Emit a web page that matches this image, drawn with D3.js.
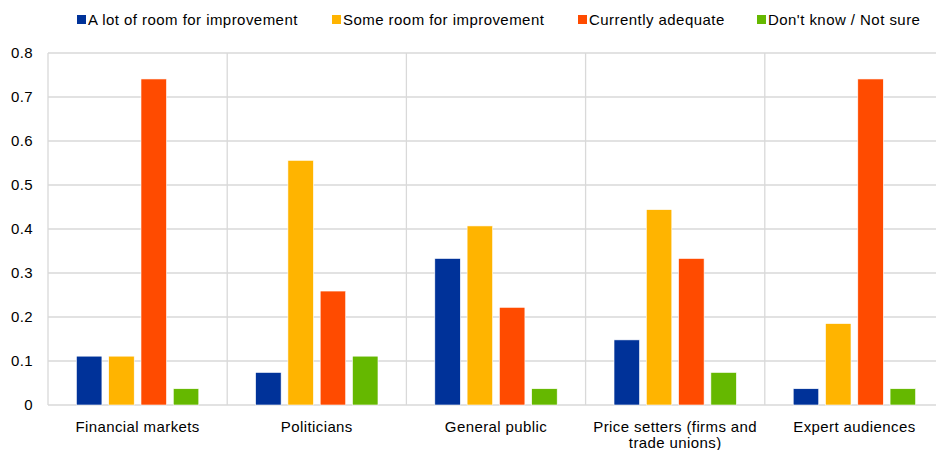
<!DOCTYPE html>
<html>
<head>
    <script src="https://d3js.org/d3.v7.min.js"></script>
    <style>
        body { margin: 0; background: #fff; }
        svg { display: block; font-family: "Liberation Sans", Arial, sans-serif; }
        .grid line { stroke: #d9d9d9; stroke-width: 1.3; }
        .axis path, .axis line { stroke: none; }
        .axis text { fill: #000; font-size: 15px; letter-spacing: 0.4px; }
        .legend text { font-size: 15px; fill: #000; letter-spacing: 0.45px; }
    </style>
</head>
<body>
    <svg id="chart"></svg>
    <script>
        const categories = ['Financial markets', 'Politicians', 'General public', 'Price setters (firms and trade unions)', 'Expert audiences'];
        const seriesNames = ['A lot of room for improvement', 'Some room for improvement', 'Currently adequate', "Don't know / Not sure"];
        const seriesColors = ['#003299', '#FFB400', '#FF4B00', '#65B800'];
        const lotOfRoom = [0.111, 0.074, 0.333, 0.148, 0.037];
        const someRoom = [0.111, 0.556, 0.407, 0.444, 0.185];
        const adequate = [0.741, 0.259, 0.222, 0.333, 0.741];
        const dontKnow = [0.037, 0.111, 0.037, 0.074, 0.037];
        const yTicks = [0, 0.1, 0.2, 0.3, 0.4, 0.5, 0.6, 0.7, 0.8];

        const series = [lotOfRoom, someRoom, adequate, dontKnow];
        const data = categories.map((c, i) => ({ cat: c, values: series.map(s => s[i]) }));

        const W = 936, H = 450;
        const margin = { top: 53, right: -8, bottom: 45, left: 48 };
        const width = W - margin.left - margin.right;
        const height = H - margin.top - margin.bottom;

        const svg = d3.select('#chart').attr('width', W).attr('height', H);
        const g = svg.append('g').attr('transform', `translate(${margin.left},${margin.top})`);

        const x0 = d3.scaleBand().domain(categories).range([0, width]).padding(0);
        const x1 = d3.scaleBand().domain(d3.range(4)).range([0, x0.bandwidth()])
            .paddingInner(0.21).paddingOuter(0.88);
        const y = d3.scaleLinear().domain([0, 0.8]).range([height, 0]);

        // horizontal gridlines
        g.append('g').attr('class', 'grid')
            .selectAll('line').data(yTicks).enter().append('line')
            .attr('x1', 0).attr('x2', width)
            .attr('y1', d => y(d)).attr('y2', d => y(d));

        // vertical separators
        g.append('g').attr('class', 'grid')
            .selectAll('line').data(categories).enter().append('line')
            .attr('x1', d => x0(d)).attr('x2', d => x0(d))
            .attr('y1', 0).attr('y2', height);

        // bars
        const groups = g.selectAll('.cat').data(data).enter().append('g')
            .attr('transform', d => `translate(${x0(d.cat)},0)`);
        groups.selectAll('rect').data(d => d.values).enter().append('rect')
            .attr('x', (d, i) => x1(i))
            .attr('width', x1.bandwidth())
            .attr('y', d => y(d))
            .attr('height', d => height - y(d))
            .attr('fill', (d, i) => seriesColors[i])
            .attr('stroke', '#fff').attr('stroke-width', 0.6);

        // y axis
        g.append('g').attr('class', 'axis')
            .attr('transform', 'translate(-15,0)')
            .call(d3.axisLeft(y).tickValues(yTicks).tickSize(0).tickPadding(0)
                .tickFormat(d => d === 0 ? '0' : d3.format('.1f')(d)));

        // x axis labels, wrapped
        const xAxis = g.append('g').attr('class', 'axis')
            .attr('transform', `translate(0,${height})`)
            .call(d3.axisBottom(x0).tickSize(0).tickPadding(15).tickFormat(''));
        const labelLines = {
            'Price setters (firms and trade unions)': ['Price setters (firms and', 'trade unions)']
        };
        xAxis.selectAll('.tick').each(function(d) {
            const lines = labelLines[d] || [d];
            const t = d3.select(this).append('text')
                .attr('fill', '#000').attr('text-anchor', 'middle')
                .attr('y', 27);
            lines.forEach((l, i) => t.append('tspan').attr('x', 0).attr('dy', i === 0 ? 0 : 16).text(l));
        });

        // legend
        const legendX = [77, 332, 578, 757];
        const legend = svg.append('g').attr('class', 'legend');
        seriesNames.forEach((name, i) => {
            legend.append('rect').attr('x', legendX[i]).attr('y', 15)
                .attr('width', 9).attr('height', 9).attr('fill', seriesColors[i]);
            legend.append('text').attr('x', legendX[i] + 11).attr('y', 25).text(name);
        });
    </script>
</body>
</html>
